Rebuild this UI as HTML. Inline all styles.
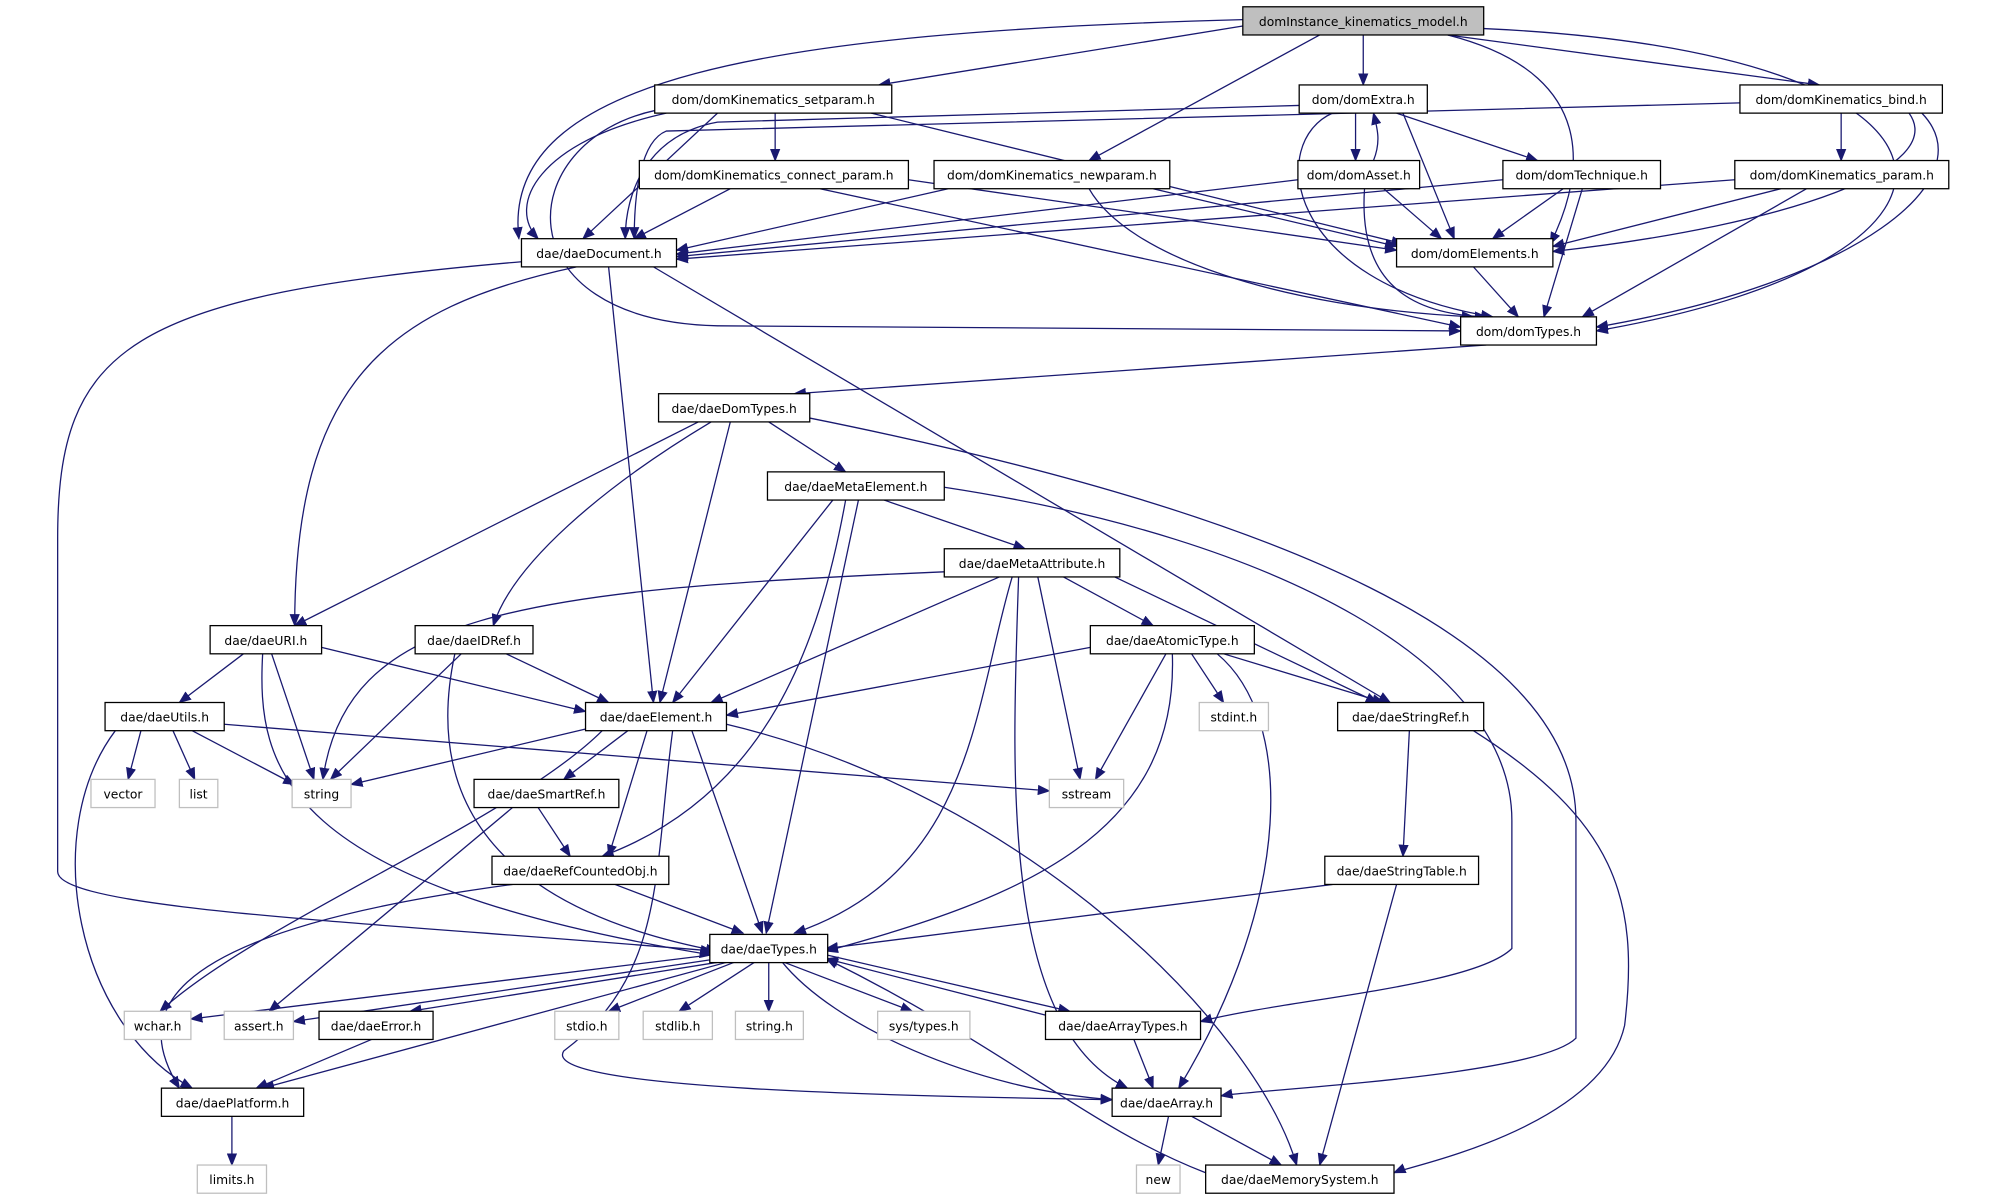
<!DOCTYPE html>
<html><head><meta charset="utf-8"><style>
html,body{margin:0;padding:0;background:#fff;}
svg{display:block}
text{font-family:"DejaVu Sans","Liberation Sans",sans-serif;font-size:9.6px;fill:#000;text-anchor:middle}
.e{fill:none;stroke:#191970;stroke-width:1;marker-end:url(#a)}
.n{fill:#fff;stroke:#000;stroke-width:1}
.g{fill:#fff;stroke:#bfbfbf;stroke-width:1}
</style></head><body>
<svg width="2009" height="1200" viewBox="0 0 1568 936" xmlns="http://www.w3.org/2000/svg">
<defs><marker id="a" markerWidth="10" markerHeight="8" refX="9" refY="4" orient="auto" markerUnits="userSpaceOnUse"><path d="M0,0 L10,4 L0,8 z" fill="#191970"/></marker></defs>
<g>
<path class="e" d="M970,20 L686,66"/>
<path class="e" d="M1064,27 L1064,66"/>
<path class="e" d="M1130,27 L1420,66"/>
<path class="e" d="M1030,27 L850,125"/>
<path class="e" d="M970,15 C600,25 390,60 405,186"/>
<path class="e" d="M1130,27 C1260,60 1230,150 1210,190"/>
<path class="e" d="M1158,22 C1560,40 1580,200 1246,258"/>
<path class="e" d="M560,88 L455,186"/>
<path class="e" d="M520,88 C420,110 395,160 420,186"/>
<path class="e" d="M511,86 C400,110 390,250 560,254 L1140,258"/>
<path class="e" d="M605,88 L605,125"/>
<path class="e" d="M680,88 L1095,190"/>
<path class="e" d="M1058,88 L1058,125"/>
<path class="e" d="M1072,125 C1078,110 1075,100 1072,88"/>
<path class="e" d="M1090,88 L1200,125"/>
<path class="e" d="M1095,88 L1135,186"/>
<path class="e" d="M1040,88 C990,110 1000,220 1165,247"/>
<path class="e" d="M1014,82 L560,95 C505,105 488,150 488,186"/>
<path class="e" d="M1437,88 L1437,125"/>
<path class="e" d="M1490,88 C1520,130 1400,175 1212,196"/>
<path class="e" d="M1500,88 C1550,140 1450,220 1246,255"/>
<path class="e" d="M1358,80 L520,102 C500,110 495,150 495,186"/>
<path class="e" d="M570,147 L495,186"/>
<path class="e" d="M709,140 L1090,195"/>
<path class="e" d="M640,147 L1140,255"/>
<path class="e" d="M740,147 L528,195"/>
<path class="e" d="M900,147 L1090,192"/>
<path class="e" d="M850,147 C880,200 1000,240 1150,247"/>
<path class="e" d="M1013,140 L528,198"/>
<path class="e" d="M1080,147 L1125,186"/>
<path class="e" d="M1065,147 C1060,220 1100,245 1160,247"/>
<path class="e" d="M1173,140 L528,200"/>
<path class="e" d="M1220,147 L1165,186"/>
<path class="e" d="M1235,147 L1205,247"/>
<path class="e" d="M1354,140 L528,202"/>
<path class="e" d="M1390,147 L1212,192"/>
<path class="e" d="M1410,147 L1235,247"/>
<path class="e" d="M1150,208 L1185,247"/>
<path class="e" d="M450,208 C300,240 230,300 230,488"/>
<path class="e" d="M475,208 L510,548"/>
<path class="e" d="M510,208 L1085,548"/>
<path class="e" d="M407,204 C100,230 45,270 45,420 L45,680 C45,710 300,720 556,742"/>
<path class="e" d="M1160,269 L620,307"/>
<path class="e" d="M545,329 L230,488"/>
<path class="e" d="M555,329 C470,380 400,440 385,488"/>
<path class="e" d="M570,329 L515,548"/>
<path class="e" d="M600,329 L660,368"/>
<path class="e" d="M632,326 C1000,400 1230,500 1230,640 L1230,810 C1200,840 980,850 953,855"/>
<path class="e" d="M650,390 L525,548"/>
<path class="e" d="M660,390 C640,500 600,620 470,668"/>
<path class="e" d="M670,390 L598,728"/>
<path class="e" d="M690,390 L800,428"/>
<path class="e" d="M737,380 C1000,420 1180,520 1180,640 L1180,740 C1150,770 1000,780 937,797"/>
<path class="e" d="M737,446 C400,460 270,480 252,608"/>
<path class="e" d="M780,450 L555,548"/>
<path class="e" d="M790,450 C760,550 760,680 620,728"/>
<path class="e" d="M795,450 C790,600 780,800 880,849"/>
<path class="e" d="M810,450 L843,608"/>
<path class="e" d="M830,450 L900,488"/>
<path class="e" d="M870,450 L1075,548"/>
<path class="e" d="M190,510 L140,548"/>
<path class="e" d="M212,510 L245,608"/>
<path class="e" d="M251,505 L457,555"/>
<path class="e" d="M205,510 C200,600 220,690 555,745"/>
<path class="e" d="M360,510 L258,608"/>
<path class="e" d="M395,510 L475,548"/>
<path class="e" d="M355,510 C340,580 340,700 560,742"/>
<path class="e" d="M851,505 L567,558"/>
<path class="e" d="M910,510 L855,608"/>
<path class="e" d="M930,510 L955,548"/>
<path class="e" d="M955,510 L1080,548"/>
<path class="e" d="M915,510 C920,650 800,700 645,742"/>
<path class="e" d="M950,510 C1010,560 1010,700 920,849"/>
<path class="e" d="M110,570 L100,608"/>
<path class="e" d="M135,570 L152,608"/>
<path class="e" d="M150,570 L230,612"/>
<path class="e" d="M175,565 L819,617"/>
<path class="e" d="M90,570 C30,650 60,800 150,849"/>
<path class="e" d="M460,568 L274,612"/>
<path class="e" d="M470,570 C400,640 200,720 125,789"/>
<path class="e" d="M490,570 L440,608"/>
<path class="e" d="M505,570 L475,668"/>
<path class="e" d="M540,570 L595,728"/>
<path class="e" d="M525,570 C510,680 520,760 440,820 C420,850 700,855 868,858"/>
<path class="e" d="M567,565 C800,620 980,800 1012,909"/>
<path class="e" d="M1100,570 L1095,668"/>
<path class="e" d="M1150,570 C1260,640 1280,700 1268,800 C1250,880 1100,910 1088,915"/>
<path class="e" d="M420,630 L445,668"/>
<path class="e" d="M400,630 L210,789"/>
<path class="e" d="M480,690 L580,728"/>
<path class="e" d="M400,690 C100,730 110,800 140,849"/>
<path class="e" d="M1040,690 L645,740"/>
<path class="e" d="M1090,690 L1030,909"/>
<path class="e" d="M555,745 L149,795"/>
<path class="e" d="M560,748 L229,797"/>
<path class="e" d="M565,750 L320,789"/>
<path class="e" d="M575,750 L475,789"/>
<path class="e" d="M590,750 L530,789"/>
<path class="e" d="M600,750 L600,789"/>
<path class="e" d="M610,750 L712,789"/>
<path class="e" d="M645,745 L835,789"/>
<path class="e" d="M570,750 L205,849"/>
<path class="e" d="M610,750 C650,800 760,850 868,858"/>
<path class="e" d="M816,792 L645,748"/>
<path class="e" d="M885,811 L900,849"/>
<path class="e" d="M290,811 L200,849"/>
<path class="e" d="M181,871 L181,909"/>
<path class="e" d="M912,871 L904,909"/>
<path class="e" d="M930,871 L1000,909"/>
<path class="e" d="M941,915 C850,880 790,820 645,748"/>
</g>
<g>
<rect x="970" y="5" width="188" height="22" fill="#bfbfbf" stroke="#000"/><text x="1064" y="20">domInstance_kinematics_model.h</text>
<rect class="n" x="511" y="66" width="185" height="22"/><text x="603.5" y="81">dom/domKinematics_setparam.h</text>
<rect class="n" x="1014" y="66" width="100" height="22"/><text x="1064" y="81">dom/domExtra.h</text>
<rect class="n" x="1358" y="66" width="158" height="22"/><text x="1437" y="81">dom/domKinematics_bind.h</text>
<rect class="n" x="499" y="125" width="210" height="22"/><text x="604" y="140">dom/domKinematics_connect_param.h</text>
<rect class="n" x="729" y="125" width="184" height="22"/><text x="821" y="140">dom/domKinematics_newparam.h</text>
<rect class="n" x="1013" y="125" width="95" height="22"/><text x="1060.5" y="140">dom/domAsset.h</text>
<rect class="n" x="1173" y="125" width="123" height="22"/><text x="1234.5" y="140">dom/domTechnique.h</text>
<rect class="n" x="1354" y="125" width="167" height="22"/><text x="1437.5" y="140">dom/domKinematics_param.h</text>
<rect class="n" x="407" y="186" width="121" height="22"/><text x="467.5" y="201">dae/daeDocument.h</text>
<rect class="n" x="1090" y="186" width="122" height="22"/><text x="1151" y="201">dom/domElements.h</text>
<rect class="n" x="1140" y="247" width="106" height="22"/><text x="1193" y="262">dom/domTypes.h</text>
<rect class="n" x="514" y="307" width="118" height="22"/><text x="573" y="322">dae/daeDomTypes.h</text>
<rect class="n" x="599" y="368" width="138" height="22"/><text x="668" y="383">dae/daeMetaElement.h</text>
<rect class="n" x="737" y="428" width="137" height="22"/><text x="805.5" y="443">dae/daeMetaAttribute.h</text>
<rect class="n" x="164" y="488" width="87" height="22"/><text x="207.5" y="503">dae/daeURI.h</text>
<rect class="n" x="324" y="488" width="92" height="22"/><text x="370" y="503">dae/daeIDRef.h</text>
<rect class="n" x="851" y="488" width="128" height="22"/><text x="915" y="503">dae/daeAtomicType.h</text>
<rect class="n" x="82" y="548" width="93" height="22"/><text x="128.5" y="563">dae/daeUtils.h</text>
<rect class="n" x="457" y="548" width="110" height="22"/><text x="512" y="563">dae/daeElement.h</text>
<rect class="n" x="1044" y="548" width="114" height="22"/><text x="1101" y="563">dae/daeStringRef.h</text>
<rect class="g" x="71" y="608" width="50" height="22"/><text x="96" y="623">vector</text>
<rect class="g" x="140" y="608" width="30" height="22"/><text x="155" y="623">list</text>
<rect class="g" x="228" y="608" width="46" height="22"/><text x="251" y="623">string</text>
<rect class="g" x="936" y="548" width="54" height="22"/><text x="963" y="563">stdint.h</text>
<rect class="g" x="819" y="608" width="58" height="22"/><text x="848" y="623">sstream</text>
<rect class="n" x="370" y="608" width="113" height="22"/><text x="426.5" y="623">dae/daeSmartRef.h</text>
<rect class="n" x="384" y="668" width="138" height="22"/><text x="453" y="683">dae/daeRefCountedObj.h</text>
<rect class="n" x="1034" y="668" width="120" height="22"/><text x="1094" y="683">dae/daeStringTable.h</text>
<rect class="n" x="554" y="729" width="92" height="22"/><text x="600" y="744">dae/daeTypes.h</text>
<rect class="g" x="97" y="789" width="52" height="22"/><text x="123" y="804">wchar.h</text>
<rect class="g" x="175" y="789" width="54" height="22"/><text x="202" y="804">assert.h</text>
<rect class="n" x="249" y="789" width="89" height="22"/><text x="293.5" y="804">dae/daeError.h</text>
<rect class="g" x="433" y="789" width="50" height="22"/><text x="458" y="804">stdio.h</text>
<rect class="g" x="502" y="789" width="54" height="22"/><text x="529" y="804">stdlib.h</text>
<rect class="g" x="574" y="789" width="53" height="22"/><text x="600.5" y="804">string.h</text>
<rect class="g" x="685" y="789" width="72" height="22"/><text x="721" y="804">sys/types.h</text>
<rect class="n" x="816" y="789" width="121" height="22"/><text x="876.5" y="804">dae/daeArrayTypes.h</text>
<rect class="n" x="126" y="849" width="111" height="22"/><text x="181.5" y="864">dae/daePlatform.h</text>
<rect class="n" x="868" y="849" width="85" height="22"/><text x="910.5" y="864">dae/daeArray.h</text>
<rect class="g" x="154" y="909" width="54" height="22"/><text x="181" y="924">limits.h</text>
<rect class="g" x="887" y="909" width="34" height="22"/><text x="904" y="924">new</text>
<rect class="n" x="941" y="909" width="147" height="22"/><text x="1014.5" y="924">dae/daeMemorySystem.h</text>
</g>
</svg>
</body></html>
